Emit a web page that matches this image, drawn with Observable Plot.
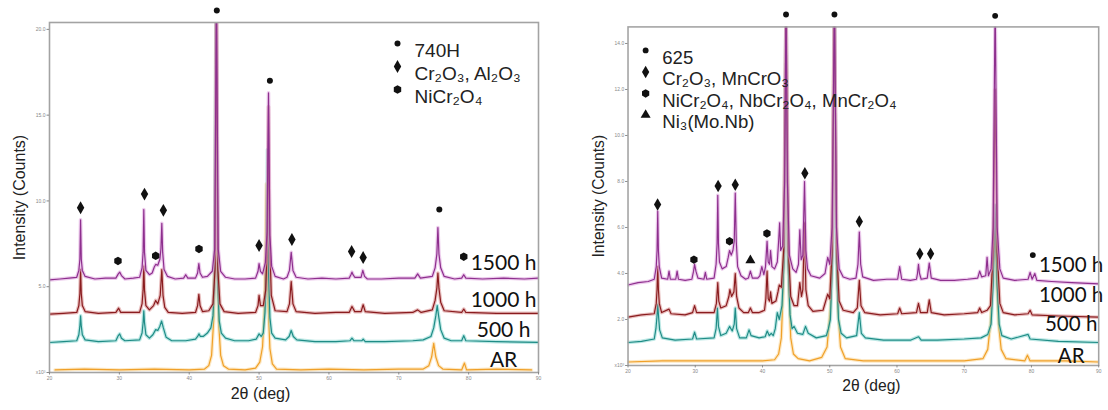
<!DOCTYPE html>
<html><head><meta charset="utf-8">
<script src="https://cdn.jsdelivr.net/npm/d3@7"></script>
<script src="https://cdn.jsdelivr.net/npm/@observablehq/plot@0.6"></script>
<style>
body{margin:0;background:#fff;}
#wrap{position:relative;width:1108px;height:410px;overflow:hidden;background:#fff;}
#left,#right{position:absolute;top:0;}
#left{left:0;} #right{left:560px;}
</style></head><body><div id="wrap"><div id="left"></div><div id="right"></div></div>
<script>
// ---------- shared ----------
const seriesNames = ["AR", "500 h", "1000 h", "1500 h"];
const xTicks = [20, 30, 40, 50, 60, 70, 80, 90];
const yTicksLeft = [0, 5, 10, 15, 20];
const yTicksRight = [0, 2, 4, 6, 8, 10, 12, 14];
const yTitle = "Intensity (Counts)";
const xTitle = "2θ (deg)";

// ---------- left panel: 740H (2θ, intensity ×10³) ----------
const L_AR = [[20.8,0.15],[25,0.2],[30,0.15],[35,0.2],[40,0.15],[42.2,0.2],[42.8,0.4],[43.2,1.0],[43.5,3.0],[43.7,8],[43.85,25],[44.0,8],[44.2,3.0],[44.5,1.0],[44.9,0.4],[45.6,0.2],[48,0.15],[49.5,0.25],[50.1,0.6],[50.5,1.5],[50.8,4],[51.05,11],[51.3,4],[51.55,1.4],[51.9,0.5],[52.5,0.2],[56,0.15],[60,0.2],[65,0.15],[70,0.2],[73.5,0.2],[74.3,0.4],[74.7,0.9],[75.0,1.7],[75.3,0.9],[75.7,0.4],[76.3,0.2],[79.0,0.15],[79.4,0.55],[79.7,0.15],[84,0.2],[89,0.15]];
const L_500 = [[20,1.75],[22,1.8],[23.9,1.85],[24.2,2.2],[24.35,2.7],[24.45,3.3],[24.55,2.7],[24.7,2.2],[25.1,1.9],[27,1.8],[29.5,1.85],[29.85,2.15],[30.05,2.25],[30.3,2.0],[30.8,1.85],[32.9,1.9],[33.25,2.3],[33.4,2.9],[33.5,3.6],[33.6,2.9],[33.8,2.2],[34.3,2.0],[34.8,2.2],[35.2,2.5],[35.5,2.45],[35.8,2.7],[36.05,3.0],[36.3,2.6],[36.7,2.05],[37.5,1.85],[39.5,1.85],[40.9,1.95],[41.2,2.1],[41.4,2.25],[41.6,2.1],[42.0,2.1],[42.6,2.3],[43.1,2.6],[43.4,3.3],[43.6,5],[43.85,22],[44.1,5],[44.3,3.0],[44.6,2.3],[45.2,2.0],[46.5,1.85],[48.5,1.85],[49.6,1.95],[50.0,2.25],[50.3,2.1],[50.6,2.3],[50.85,3.5],[51.05,6],[51.2,13.0],[51.35,6],[51.55,3.2],[51.8,2.3],[52.3,2.0],[53.8,1.9],[54.3,2.1],[54.6,2.45],[54.9,2.1],[55.4,1.9],[58,1.8],[61,1.8],[63.0,1.85],[63.3,2.0],[63.6,1.85],[64.7,1.85],[64.9,1.95],[65.2,1.8],[68,1.8],[72,1.85],[73.5,1.9],[74.6,2.1],[75.0,2.6],[75.3,3.3],[75.5,3.9],[75.7,3.3],[76.0,2.5],[76.5,2.0],[77.5,1.85],[79.0,1.85],[79.3,2.15],[79.6,1.85],[84,1.8],[90,1.75]];
const L_1000 = [[20,3.4],[22.0,3.45],[23.9,3.5],[24.2,3.9],[24.35,4.6],[24.45,6.0],[24.55,4.6],[24.7,3.9],[25.1,3.55],[27.0,3.45],[29.5,3.5],[29.9,3.75],[30.2,3.5],[32.9,3.5],[33.25,4.0],[33.4,4.8],[33.5,6.2],[33.6,4.8],[33.8,3.9],[34.3,3.65],[34.9,3.9],[35.2,4.2],[35.5,4.0],[35.85,4.5],[36.08,6.0],[36.25,4.5],[36.5,3.8],[37.0,3.5],[39.0,3.45],[40.9,3.5],[41.2,3.9],[41.38,4.55],[41.55,3.9],[41.9,3.55],[42.8,3.6],[43.4,4.0],[43.7,6],[43.9,22],[44.1,6],[44.4,4.0],[45.0,3.55],[47.0,3.45],[49.5,3.5],[49.85,3.9],[50.0,4.5],[50.2,3.9],[50.6,3.9],[50.95,4.8],[51.2,8],[51.35,15.5],[51.5,8],[51.75,4.5],[52.3,3.6],[54.0,3.55],[54.35,4.0],[54.6,5.3],[54.85,4.0],[55.3,3.55],[58.0,3.45],[61.0,3.5],[62.9,3.5],[63.3,3.85],[63.7,3.55],[64.6,3.55],[64.9,3.95],[65.2,3.55],[68.0,3.45],[72.0,3.5],[72.7,3.65],[73.2,3.5],[74.8,3.65],[75.2,4.2],[75.45,4.9],[75.6,5.8],[75.75,4.9],[76.0,4.1],[76.5,3.6],[79.0,3.5],[79.3,3.7],[79.6,3.5],[84,3.45],[90,3.45]];
const L_1500 = [[20,5.4],[21.5,5.45],[22.8,5.5],[23.9,5.55],[24.2,5.95],[24.35,6.6],[24.45,8.9],[24.55,6.6],[24.7,5.95],[25.1,5.6],[26.5,5.45],[28.0,5.5],[29.5,5.5],[29.85,5.75],[30.05,5.85],[30.3,5.65],[30.8,5.45],[32.0,5.5],[32.9,5.55],[33.25,6.1],[33.4,7.0],[33.5,9.5],[33.6,7.0],[33.8,5.95],[34.3,5.7],[34.7,5.8],[35.0,6.15],[35.2,6.3],[35.5,6.25],[35.8,6.6],[35.95,7.2],[36.08,8.7],[36.2,7.0],[36.4,6.0],[36.9,5.6],[38.0,5.45],[39.2,5.5],[39.5,5.7],[39.8,5.5],[40.9,5.5],[41.2,5.8],[41.38,6.35],[41.55,5.8],[41.9,5.55],[42.6,5.6],[43.3,5.9],[43.65,7.2],[43.9,22],[44.15,7.2],[44.5,5.9],[45.2,5.55],[46.5,5.45],[48.0,5.45],[49.5,5.5],[49.85,5.9],[50.0,6.35],[50.2,5.9],[50.5,5.75],[50.9,6.4],[51.15,8.2],[51.35,16.3],[51.55,8.0],[51.8,6.2],[52.3,5.6],[53.5,5.45],[54.0,5.55],[54.35,5.95],[54.6,7.0],[54.85,5.95],[55.3,5.55],[57.0,5.45],[59.0,5.5],[61.0,5.45],[62.9,5.5],[63.15,5.7],[63.3,5.85],[63.45,5.7],[63.7,5.55],[64.6,5.55],[64.85,5.95],[65.1,5.6],[65.5,5.45],[67.5,5.45],[70.0,5.5],[72.3,5.5],[72.7,5.75],[73.1,5.5],[74.8,5.6],[75.2,6.1],[75.45,6.9],[75.6,8.45],[75.75,6.9],[76.0,6.1],[76.5,5.6],[78.0,5.45],[79.0,5.5],[79.3,5.7],[79.6,5.5],[82.0,5.45],[85.0,5.5],[88.0,5.45],[90,5.5]];
const L_alloy = [[43.95,21.1],[51.55,17.0],[75.8,9.5]];
const L_oxide = [[24.45,9.6],[33.6,10.4],[36.3,9.45],[50.0,7.4],[54.7,7.75],[63.25,7.05],[64.9,6.7]];
const L_spinel = [[29.8,6.5],[35.2,6.8],[41.4,7.2],[79.3,6.75]];
const L_legend = ["740H", "Cr₂O₃, Al₂O₃", "NiCr₂O₄"];
const L_labelLevels = [0.7, 2.45, 4.2, 6.35];

// ---------- right panel: 625 ----------
const R_AR = [[20,0.15],[25,0.2],[30,0.2],[35,0.2],[40,0.2],[41.8,0.25],[42.4,0.5],[42.8,1.2],[43.1,3.5],[43.35,9],[43.5,16],[43.65,9],[43.9,3.5],[44.2,1.2],[44.6,0.5],[45.3,0.3],[47,0.2],[48.8,0.35],[49.6,0.8],[50.1,2.5],[50.4,7],[50.65,16],[50.9,7],[51.2,2.5],[51.6,0.8],[52.3,0.3],[55,0.2],[60,0.2],[65,0.2],[70,0.2],[72.8,0.3],[73.5,0.7],[73.9,1.8],[74.2,3.8],[74.5,6.4],[74.8,3.8],[75.1,1.8],[75.5,0.7],[76.2,0.3],[79.0,0.2],[79.4,0.45],[79.8,0.2],[85,0.2],[90,0.15]];
const R_500 = [[20,1.0],[22,1.05],[23.9,1.15],[24.15,1.6],[24.3,2.1],[24.42,2.65],[24.55,2.1],[24.7,1.55],[25.1,1.2],[27,1.1],[29.6,1.15],[29.9,1.45],[30.2,1.15],[32.8,1.2],[33.1,1.6],[33.3,2.5],[33.45,1.7],[33.8,1.3],[34.6,1.4],[35.1,1.7],[35.5,1.5],[35.8,1.8],[35.95,2.5],[36.15,1.6],[36.6,1.2],[37.6,1.2],[38.0,1.55],[38.3,1.3],[39.5,1.2],[40.4,1.25],[40.7,1.5],[41.0,1.3],[41.3,1.4],[41.6,1.3],[41.9,1.6],[42.2,2.3],[42.5,2.0],[42.9,2.6],[43.2,4.5],[43.5,16],[43.8,4.5],[44.1,2.2],[44.4,1.6],[44.7,1.7],[45.2,1.4],[46.0,1.35],[46.4,1.7],[46.8,1.4],[48.0,1.2],[49.5,1.3],[49.8,1.6],[50.1,2.0],[50.4,4.5],[50.7,16],[51.0,4.5],[51.3,2.0],[51.7,1.4],[52.5,1.2],[54.0,1.3],[54.4,2.3],[54.7,1.4],[55.3,1.2],[58,1.1],[62,1.1],[63.2,1.25],[63.6,1.1],[66,1.1],[70,1.15],[72.5,1.2],[73.5,1.35],[74.0,1.8],[74.3,3.5],[74.6,7.0],[74.9,3.5],[75.2,1.8],[75.6,1.3],[77,1.15],[79.5,1.35],[79.8,1.15],[84,1.05],[90,1.0]];
const R_1000 = [[20,2.1],[22,2.2],[23.9,2.25],[24.2,2.7],[24.32,3.3],[24.42,4.3],[24.52,3.3],[24.65,2.7],[25.0,2.3],[26.1,2.45],[26.4,2.25],[28.5,2.2],[29.6,2.3],[29.9,2.6],[30.2,2.3],[31.5,2.3],[32.8,2.3],[33.15,2.7],[33.35,3.6],[33.5,2.8],[33.8,2.5],[34.6,2.6],[35.0,3.0],[35.15,3.3],[35.4,3.0],[35.75,3.2],[35.95,4.0],[36.15,3.0],[36.5,2.5],[37.2,2.3],[37.9,2.3],[38.2,2.5],[38.5,2.3],[39.5,2.3],[40.3,2.4],[40.5,2.9],[40.68,4.1],[40.85,2.9],[41.05,2.8],[41.2,3.2],[41.4,2.7],[42.0,2.8],[42.3,3.2],[42.5,3.5],[42.8,3.4],[43.15,5],[43.5,16],[43.85,5],[44.2,3.0],[44.7,2.6],[45.2,2.6],[45.55,3.6],[45.8,3.0],[46.0,3.3],[46.25,6.2],[46.45,3.3],[46.8,2.6],[47.5,2.35],[49.0,2.4],[49.7,3.1],[50.0,2.9],[50.35,5],[50.7,16],[51.05,5],[51.4,2.8],[52.0,2.4],[53.5,2.3],[54.1,2.5],[54.4,3.7],[54.65,2.6],[55.2,2.3],[57.5,2.2],[60.1,2.25],[60.4,2.5],[60.7,2.25],[62.9,2.3],[63.2,2.7],[63.5,2.3],[64.5,2.3],[64.8,2.85],[65.1,2.3],[67.0,2.2],[70.0,2.25],[72.0,2.3],[72.3,2.5],[72.6,2.3],[73.4,2.4],[73.9,2.6],[74.3,5],[74.6,12],[74.9,5],[75.3,2.7],[75.8,2.3],[77.5,2.2],[79.5,2.25],[79.8,2.4],[80.1,2.2],[84,2.15],[90,2.1]];
const R_1500 = [[20,3.5],[21.5,3.6],[23.0,3.65],[23.9,3.75],[24.2,4.3],[24.32,5.0],[24.42,6.7],[24.52,5.0],[24.65,4.3],[25.0,3.8],[25.9,3.75],[26.1,4.1],[26.3,3.75],[27.1,3.75],[27.3,4.1],[27.5,3.75],[28.5,3.7],[29.5,3.75],[29.75,4.1],[29.9,4.4],[30.1,4.1],[30.4,3.8],[31.3,3.75],[31.5,4.05],[31.7,3.75],[32.8,3.8],[33.1,4.4],[33.25,5.3],[33.35,7.4],[33.45,5.3],[33.6,4.5],[34.0,4.2],[34.6,4.3],[34.9,4.7],[35.1,5.0],[35.35,4.8],[35.6,5.0],[35.8,5.4],[35.95,7.5],[36.1,5.4],[36.3,4.3],[36.8,3.9],[37.5,3.75],[37.9,3.8],[38.2,4.1],[38.5,3.8],[39.3,3.8],[39.6,3.9],[39.9,4.3],[40.2,3.95],[40.45,4.3],[40.68,5.4],[40.85,4.5],[41.05,4.4],[41.2,5.0],[41.4,4.3],[41.8,4.2],[42.2,4.5],[42.4,5.4],[42.55,6.2],[42.7,5.0],[43.0,5.2],[43.3,8],[43.5,16],[43.7,8],[44.0,4.8],[44.5,4.2],[45.0,4.05],[45.35,4.4],[45.55,5.9],[45.75,4.6],[46.0,4.8],[46.25,8.0],[46.45,5.0],[46.7,4.2],[47.2,3.9],[48.5,3.8],[49.3,4.0],[49.7,4.7],[50.0,4.4],[50.35,6],[50.7,16],[51.0,6],[51.4,4.2],[52.0,3.85],[53.0,3.75],[53.9,3.8],[54.2,4.4],[54.4,5.8],[54.6,4.4],[54.9,3.85],[56.5,3.7],[58.5,3.75],[60.1,3.75],[60.4,4.3],[60.7,3.75],[62.0,3.7],[62.9,3.75],[63.05,4.0],[63.2,4.4],[63.35,4.0],[63.6,3.75],[64.5,3.8],[64.8,4.45],[65.1,3.8],[66.5,3.7],[68.5,3.7],[70.5,3.75],[72.0,3.8],[72.3,4.1],[72.6,3.85],[73.2,3.9],[73.4,4.7],[73.6,3.9],[74.0,4.2],[74.3,6],[74.6,16],[74.9,6],[75.3,4.2],[75.8,3.8],[77.5,3.7],[79.5,3.75],[79.8,4.05],[80.1,3.75],[80.5,4.0],[80.8,3.7],[83,3.65],[86,3.6],[90,3.55]];
const R_alloy = [[43.5,15.26],[50.7,15.26],[74.6,15.2],[80.2,4.8]];
const R_oxide = [[24.4,7.0],[33.4,7.8],[35.95,7.86],[46.3,8.36],[54.4,6.26],[63.4,4.86],[65.0,4.86]];
const R_spinel = [[29.8,4.6],[35.1,5.4],[40.66,5.74]];
const R_ni3 = [[38.2,4.57]];
const R_legend = ["625", "Cr₂O₃, MnCrO₃", "NiCr₂O₄, NbCr₂O₄, MnCr₂O₄", "Ni₃(Mo.Nb)"];
const R_labelLevels = [0.38, 1.79, 3.06, 4.34];

// ---------- drawing ----------
const lineColors = ["#f0a028", "#1f8c86", "#8a1c1f", "#8e2f8e"];
const haloColors = ["#f9d595", "#86d6d0", "#d58a8a", "#dca0dc"];
const symbolSizes = {circle: 3, diamond: 3.9, hexagon: 3.7, triangle: 3.8};

function panel(o) {
  const marks = [];
  o.traces.forEach((tr, i) => {
    marks.push(Plot.line(tr, {x: d => d[0], y: d => d[1], stroke: haloColors[i], strokeWidth: 3.6, strokeOpacity: 0.55, clip: true}));
    marks.push(Plot.line(tr, {x: d => d[0], y: d => d[1], stroke: lineColors[i], strokeWidth: 1.2, clip: true}));
  });
  o.markers.forEach(([pts, sym]) => {
    marks.push(Plot.dot(pts, {x: d => d[0], y: d => d[1], symbol: sym, r: symbolSizes[sym], fill: "#111", stroke: "none"}));
  });
  o.legend.forEach((label, i) => {
    marks.push(Plot.dot([label], {frameAnchor: "top-left", dx: o.legDx, dy: o.legDy + i * o.legStep, symbol: o.legSymbols[i], r: symbolSizes[o.legSymbols[i]], fill: "#111", stroke: "none"}));
    marks.push(Plot.text([label], {frameAnchor: "top-left", dx: o.legDx + 17, dy: o.legDy + i * o.legStep, text: d => d, textAnchor: "start", fontSize: 19, fill: "#222"}));
  });
  marks.push(Plot.text(seriesNames, {x: o.labelTheta, y: (d, i) => o.labelLevels[i], text: d => d, fontSize: 21, fontFamily: "Lato, 'Open Sans', sans-serif", fill: "#111", textAnchor: "middle"}));
  marks.push(Plot.frame({stroke: "#a3a3a3", strokeWidth: 1.6}));
  marks.push(Plot.axisX({ticks: xTicks, tickSize: 2.5, tickPadding: 1.5, fontSize: 5, color: "#888", label: null}));
  marks.push(Plot.axisY({ticks: o.yTicks, tickFormat: d => d === 0 ? "x10³" : d.toFixed(1), tickSize: 2.5, tickPadding: 1.5, fontSize: 5, color: "#888", label: null}));
  marks.push(Plot.text([yTitle], {frameAnchor: "left", dx: -30, rotate: -90, fontSize: 16, fill: "#222", textAnchor: "middle"}));
  marks.push(Plot.text([xTitle], {x: o.xTitleAt, frameAnchor: "bottom", dy: 26, fontSize: 16, fill: "#222", textAnchor: "middle"}));
  return Plot.plot({
    width: 560, height: 410,
    marginLeft: o.mL, marginRight: o.mR, marginTop: o.mT, marginBottom: o.mB,
    x: {domain: [20, 90]},
    y: {domain: o.yDomain},
    style: {fontFamily: "'Liberation Sans', Arial, sans-serif", background: "white", overflow: "visible"},
    marks
  });
}

document.getElementById("left").appendChild(panel({
  traces: [L_AR, L_500, L_1000, L_1500],
  markers: [[L_alloy, "circle"], [L_oxide, "diamond"], [L_spinel, "hexagon"]],
  legend: L_legend, legSymbols: ["circle", "diamond", "hexagon"], legDx: 348, legDy: 21, legStep: 23,
  labelLevels: L_labelLevels, labelTheta: 85,
  yDomain: [0, 20.4], yTicks: yTicksLeft, xTitleAt: 50.2,
  mL: 49, mR: 22, mT: 22, mB: 38
}));
document.getElementById("right").appendChild(panel({
  traces: [R_AR, R_500, R_1000, R_1500],
  markers: [[R_alloy, "circle"], [R_oxide, "diamond"], [R_spinel, "hexagon"], [R_ni3, "triangle"]],
  legend: R_legend, legSymbols: ["circle", "diamond", "hexagon", "triangle"], legDx: 18, legDy: 24, legStep: 22,
  labelLevels: R_labelLevels, labelTheta: 85.9,
  yDomain: [0, 14.72], yTicks: yTicksRight, xTitleAt: 56.2,
  mL: 69, mR: 10, mT: 27, mB: 37
}));
</script></body></html>
